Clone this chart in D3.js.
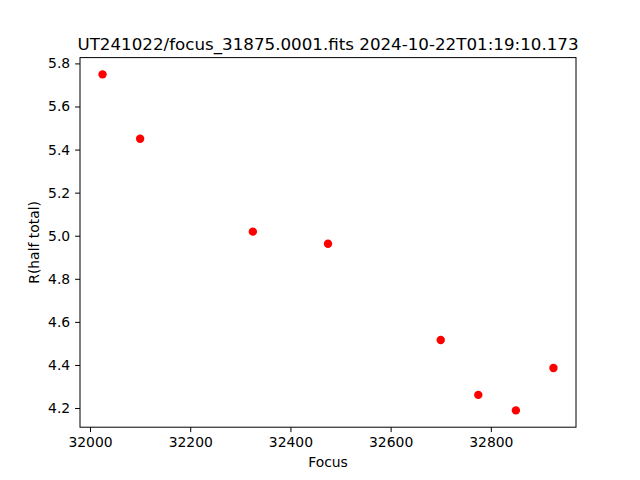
<!DOCTYPE html>
<html>
<head>
<meta charset="utf-8">
<script src="https://cdn.jsdelivr.net/npm/d3@7"></script>
<style>
  body { margin: 0; background: #fff; }
  svg text { font-family: "DejaVu Sans", sans-serif; fill: #000; }
  .tick text { font-size: 13.9px; }
  .tick line, .domain { stroke: #000; stroke-width: 1; }
</style>
</head>
<body>
<svg width="640" height="480"></svg>
<script>
// **** data ****
var focus = [32025, 32100, 32325, 32475, 32700, 32775, 32850, 32925];
var rHalf = [5.749, 5.450, 5.019, 4.963, 4.516, 4.261, 4.189, 4.386];
var xTicks = [32000, 32200, 32400, 32600, 32800];
var yTicks = [4.2, 4.4, 4.6, 4.8, 5.0, 5.2, 5.4, 5.6, 5.8];

// plot area (matplotlib defaults for 640x480)
var plotLeft = 80, plotRight = 576, plotTop = 57.6, plotBottom = 427.2;

// matplotlib style 5% margins
var xMin = d3.min(focus), xMax = d3.max(focus), xPad = (xMax - xMin) * 0.05;
var yMin = d3.min(rHalf), yMax = d3.max(rHalf), yPad = (yMax - yMin) * 0.05;

var xScale = d3.scaleLinear()
    .domain([xMin - xPad, xMax + xPad]).range([plotLeft, plotRight]);
var yScale = d3.scaleLinear()
    .domain([yMin - yPad, yMax + yPad]).range([plotBottom, plotTop]);

var svg = d3.select('svg');

svg.append('g').attr('class', 'x axis')
    .attr('transform', 'translate(0,' + plotBottom + ')')
    .call(d3.axisBottom(xScale).tickValues(xTicks).tickSize(4.9).tickPadding(4.9)
        .tickFormat(function(d){ return d; }))
    .call(function(g){ g.select('.domain').remove(); });

svg.append('g').attr('class', 'y axis')
    .attr('transform', 'translate(' + plotLeft + ',0)')
    .call(d3.axisLeft(yScale).tickValues(yTicks).tickSize(4.9).tickPadding(4.9)
        .tickFormat(d3.format('.1f')))
    .call(function(g){ g.select('.domain').remove(); });

// frame
svg.append('rect')
    .attr('x', plotLeft).attr('y', plotTop)
    .attr('width', plotRight - plotLeft).attr('height', plotBottom - plotTop)
    .attr('fill', 'none').attr('stroke', '#000').attr('stroke-width', 1);

// labels
svg.append('text')
    .attr('x', (plotLeft + plotRight) / 2).attr('y', 467)
    .attr('text-anchor', 'middle').style('font-size', '13.9px')
    .text('Focus');

svg.append('text')
    .attr('transform', 'translate(39,' + (plotTop + plotBottom) / 2 + ') rotate(-90)')
    .attr('text-anchor', 'middle').style('font-size', '13.9px')
    .text('R(half total)');

svg.append('text')
    .attr('x', (plotLeft + plotRight) / 2).attr('y', 50)
    .attr('text-anchor', 'middle').style('font-size', '16.7px')
    .text('UT241022/focus_31875.0001.fits 2024-10-22T01:19:10.173');

// points
svg.selectAll('.pt')
    .data(focus)
    .enter()
    .append('circle')
    .attr('class', 'pt')
    .attr('cx', function(d){ return xScale(d); })
    .attr('cy', function(d, i){ return yScale(rHalf[i]); })
    .attr('r', 4.2)
    .style('fill', '#ff0000');
</script>
</body>
</html>
